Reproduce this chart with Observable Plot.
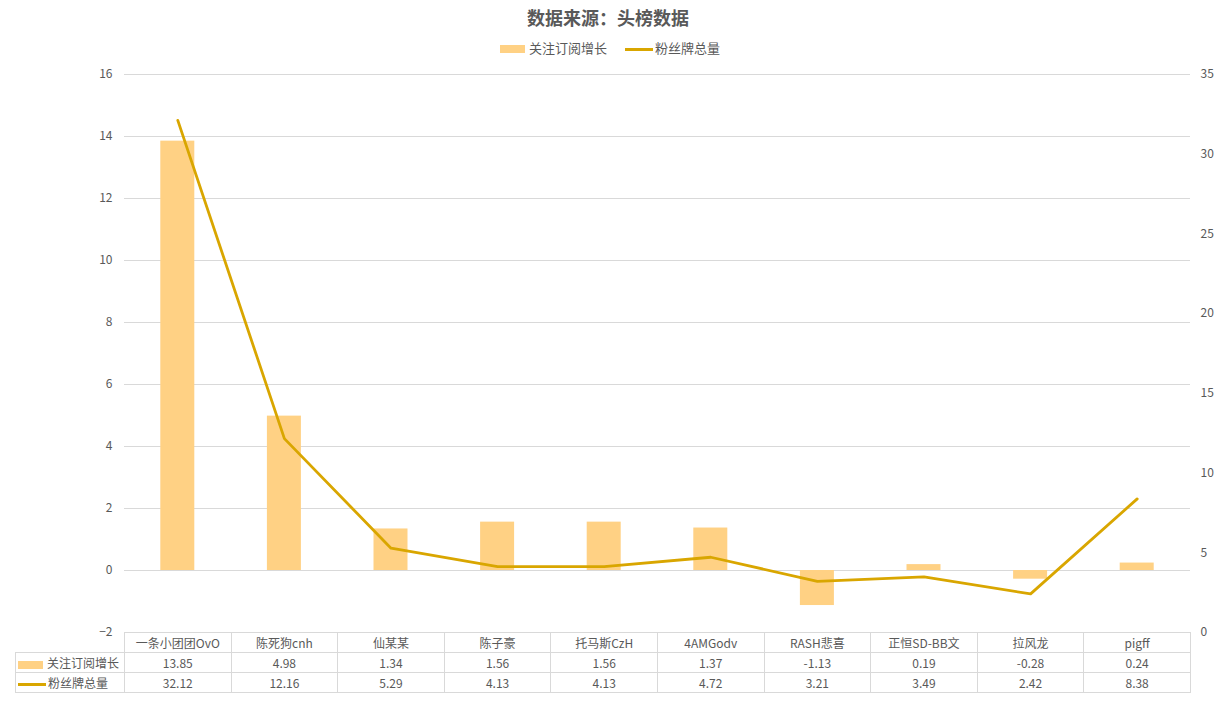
<!DOCTYPE html>
<html><head><meta charset="utf-8">
<script src="https://cdn.jsdelivr.net/npm/d3@7"></script>
<script src="https://cdn.jsdelivr.net/npm/@observablehq/plot@0.6"></script>
<style>
  html,body{margin:0;padding:0;background:#fff;}
  #wrap{position:relative;width:1220px;height:702px;overflow:hidden;font-family:"Noto Sans CJK SC","Noto Sans",sans-serif;color:#595959;}
  #title{position:absolute;top:4px;left:0;width:1216px;text-align:center;font-size:18px;font-weight:bold;color:#595959;}
  #legend{position:absolute;top:38px;left:0;width:1220px;text-align:center;font-size:13px;color:#595959;}
  #legend span.item{display:inline-block;margin:0 9px;}
  .sw-bar{display:inline-block;width:25px;height:8px;background:#ffd184;vertical-align:middle;margin-right:4px;}
  .sw-line{display:inline-block;width:28px;height:3px;background:#d9a600;vertical-align:middle;margin-right:2px;}
  #chart{position:absolute;top:60px;left:0;width:1220px;}
  #chart svg{background:transparent;overflow:visible;}
  table{position:absolute;top:632px;border-collapse:collapse;table-layout:fixed;font-size:12px;color:#595959;font-family:"Noto Sans CJK SC",sans-serif;}
  td{border:1px solid #d9d9d9;text-align:center;height:19px;padding:0;white-space:nowrap;overflow:hidden;}
  td.empty{border:none;}
  td.lab{text-align:left;padding-left:2px;}
</style>
</head><body>
<div id="wrap">
  <div id="title">数据来源：头榜数据</div>
  <div id="legend"><span class="item"><span class="sw-bar"></span>关注订阅增长</span><span class="item"><span class="sw-line"></span>粉丝牌总量</span></div>
  <div id="chart"></div>
</div>
<script>
const categories = ["一条小团团OvO","陈死狗cnh","仙某某","陈子豪","托马斯CzH","4AMGodv","RASH悲喜","正恒SD-BB文","拉风龙","pigff"];
const subscribeGrowth = [13.85, 4.98, 1.34, 1.56, 1.56, 1.37, -1.13, 0.19, -0.28, 0.24];
const fanBadgeTotal = [32.12, 12.16, 5.29, 4.13, 4.13, 4.72, 3.21, 3.49, 2.42, 8.38];
const leftTicks = [-2, 0, 2, 4, 6, 8, 10, 12, 14, 16];
const rightTicks = [0, 5, 10, 15, 20, 25, 30, 35];
const seriesNames = ["关注订阅增长", "粉丝牌总量"];

const barColor = "#ffd184";
const lineColor = "#d9a600";
const leftMin = -2, leftMax = 16, rightMin = 0, rightMax = 35;
const toLeft = v => leftMin + (v - rightMin) / (rightMax - rightMin) * (leftMax - leftMin);
const fromLeft = y => rightMin + (y - leftMin) / (leftMax - leftMin) * (rightMax - rightMin);

const data = categories.map((c, i) => ({cat: c, bar: subscribeGrowth[i], line: fanBadgeTotal[i], lineY: toLeft(fanBadgeTotal[i])}));

const W = 1220, mL = 124, mR = 30;
const plot = Plot.plot({
  width: W, height: 584,
  marginTop: 14, marginBottom: 12, marginLeft: mL, marginRight: mR,
  style: {background: "transparent", fontFamily: "'Noto Sans CJK SC', sans-serif", fontSize: "12px", color: "#595959"},
  x: {domain: categories, padding: 0, round: false, axis: null},
  y: {domain: [leftMin, leftMax], axis: null},
  marks: [
    Plot.gridY(leftTicks, {stroke: "#d9d9d9", strokeOpacity: 1}),
    Plot.barY(data, {x: "cat", y: "bar", fill: barColor, insetLeft: 36.3, insetRight: 36.3}),
    Plot.lineY(data, {x: "cat", y: "lineY", stroke: lineColor, strokeWidth: 2.8}),
    Plot.axisY(leftTicks, {anchor: "left", tickSize: 0, tickPadding: 12, fontSize: 12, fill: "#595959"}),
    Plot.axisY(rightTicks.map(toLeft), {anchor: "right", tickSize: 0, tickPadding: 10, fontSize: 12, fill: "#595959", tickFormat: d => String(Math.round(fromLeft(d)))})
  ]
});
document.getElementById("chart").appendChild(plot);

// data table aligned to the x scale
const xs = plot.scale("x");
const step = xs.bandwidth;
const labelW = mL - 15;
const tbl = document.createElement("table");
tbl.style.left = "15px";
const cg = document.createElement("colgroup");
const c0 = document.createElement("col"); c0.style.width = labelW + "px"; cg.appendChild(c0);
categories.forEach(() => { const c = document.createElement("col"); c.style.width = step + "px"; cg.appendChild(c); });
tbl.appendChild(cg);
tbl.style.width = (labelW + step * categories.length) + "px";
const hr = tbl.insertRow();
const e = hr.insertCell(); e.className = "empty";
categories.forEach(c => { const td = hr.insertCell(); td.textContent = c; });
const rows = [
  {name: seriesNames[0], vals: subscribeGrowth, sw: "sw-bar"},
  {name: seriesNames[1], vals: fanBadgeTotal, sw: "sw-line"}
];
rows.forEach(r => {
  const tr = tbl.insertRow();
  const lab = tr.insertCell(); lab.className = "lab";
  const s = document.createElement("span"); s.className = r.sw; lab.appendChild(s);
  lab.appendChild(document.createTextNode(r.name));
  r.vals.forEach(v => { const td = tr.insertCell(); td.textContent = v.toFixed(2); });
});
document.getElementById("wrap").appendChild(tbl);
</script>
</body></html>
